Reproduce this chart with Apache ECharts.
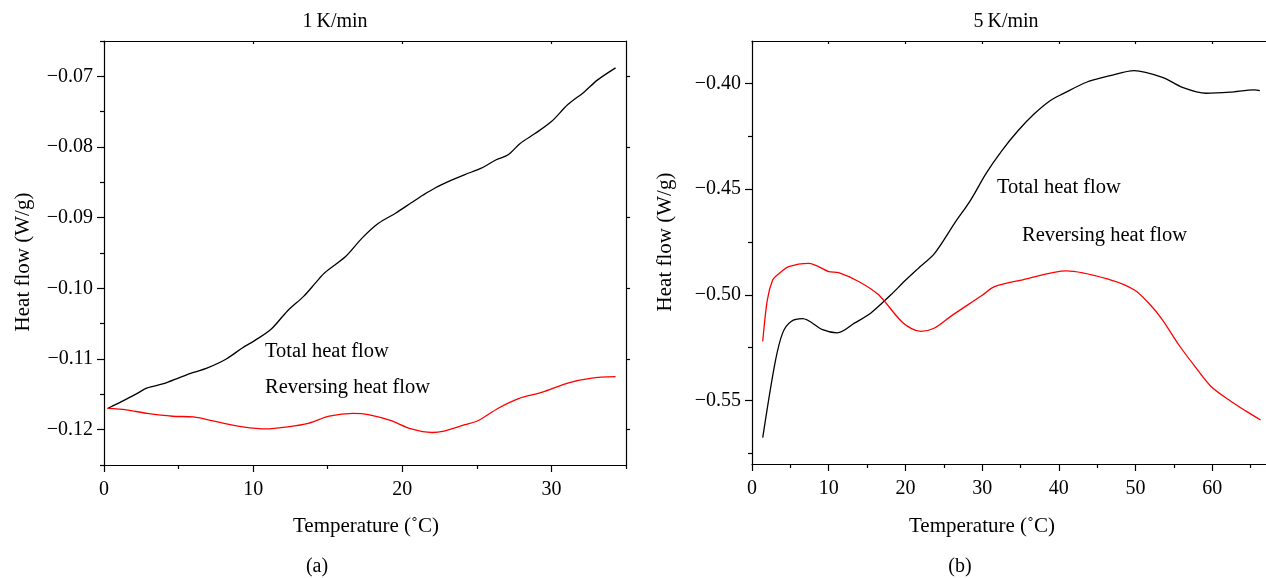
<!DOCTYPE html>
<html><head><meta charset="utf-8">
<script src="https://cdn.jsdelivr.net/npm/echarts@6/dist/echarts.min.js"></script>
<style>html,body{margin:0;padding:0;background:#fff}#c{width:1266px;height:578px}</style>
</head><body><div id="c"></div><script>
// ---------- data ----------
const leftTotalT = [0.24,1.3,2.2,2.9,4.0,5.1,6.0,6.9,8.2,9.3,10.1,11.2,12.3,13.4,14.2,14.8,16.2,17.3,18.4,19.6,20.6,21.4,22.2,23.3,24.2,25.3,26.3,27.1,27.9,28.9,30.0,31.1,32.2,33.1,34.3];
const leftTotalV = [-0.1170,-0.1159,-0.1149,-0.1141,-0.1135,-0.1126,-0.1119,-0.1113,-0.1100,-0.1084,-0.1074,-0.1058,-0.1032,-0.1011,-0.0992,-0.0978,-0.0955,-0.0929,-0.0908,-0.0893,-0.0879,-0.0868,-0.0858,-0.0847,-0.0839,-0.0830,-0.0818,-0.0811,-0.0795,-0.0781,-0.0764,-0.0740,-0.0722,-0.0705,-0.0688];
const leftRevT = [0.24,1.5,2.9,4.6,6.0,7.6,9.3,10.9,12.3,13.7,15.1,16.7,17.8,19.2,20.6,22.0,22.8,24.2,25.1,26.4,27.8,29.4,31.1,32.7,34.3];
const leftRevV = [-0.1170,-0.1172,-0.1177,-0.1181,-0.1182,-0.1189,-0.1196,-0.1199,-0.1196,-0.1191,-0.1181,-0.1177,-0.1179,-0.1187,-0.1199,-0.1204,-0.1202,-0.1193,-0.1187,-0.1170,-0.1156,-0.1147,-0.1134,-0.1127,-0.1125];
const rightTotalT = [1.4,3.0,4.0,5.1,6.6,9.2,11.1,13.4,15.5,18.1,19.9,21.7,23.8,26.4,28.5,30.5,32.6,34.7,36.8,38.9,40.5,43.6,46.7,49.8,53.5,56.1,59.2,62.3,65.5,66.2];
const rightTotalV = [-0.5675,-0.5322,-0.5180,-0.5126,-0.5113,-0.5165,-0.5180,-0.5133,-0.5086,-0.5000,-0.4935,-0.4874,-0.4804,-0.4662,-0.4552,-0.4427,-0.4317,-0.4223,-0.4144,-0.4081,-0.4050,-0.3995,-0.3964,-0.3940,-0.3972,-0.4019,-0.4047,-0.4042,-0.4031,-0.4035];
const rightRevT = [1.4,2.0,2.7,3.3,4.8,7.4,10.0,11.3,13.9,16.5,19.7,22.0,23.8,25.9,30.1,31.6,35.3,41.0,46.7,49.8,51.7,53.5,55.6,57.7,59.8,62.4,64.4,66.3];
const rightRevV = [-0.5220,-0.5024,-0.4929,-0.4906,-0.4867,-0.4851,-0.4890,-0.4895,-0.4937,-0.5000,-0.5133,-0.5173,-0.5157,-0.5102,-0.5000,-0.4961,-0.4929,-0.4887,-0.4929,-0.4976,-0.5039,-0.5118,-0.5235,-0.5337,-0.5432,-0.5503,-0.5550,-0.5592];

const leftXTicks = [0,10,20,30];
const leftXMinor = [5,15,25,35];
const leftYTicks = [-0.12,-0.11,-0.10,-0.09,-0.08,-0.07];
const leftYMinor = [-0.125,-0.115,-0.105,-0.095,-0.085,-0.075,-0.065];
const rightXTicks = [0,10,20,30,40,50,60];
const rightXMinor = [5,15,25,35,45,55,65];
const rightYTicks = [-0.55,-0.50,-0.45,-0.40];
const rightYMinor = [-0.575,-0.525,-0.475,-0.425];

const titles = ['1\u2009K/min','5\u2009K/min'];
const xName = 'Temperature (\u02DAC)';
const yName = 'Heat flow (W/g)';
const panelLabels = ['(a)','(b)'];
const seriesNames = ['Total heat flow','Reversing heat flow'];

// ---------- build ----------
const FONT = '"Liberation Serif", "DejaVu Serif", serif';
const LS = {color:'#000', width:1.2};
const zip = (a,b) => a.map((v,i)=>[v,b[i]]);
const fmtY = v => '\u2212' + Math.abs(v).toFixed(2);

function xAxes(g, min, max, majors, minors){
  return [
    {gridIndex:g,type:'value',min,max,position:'bottom',
     axisLine:{show:true,onZero:false,lineStyle:LS},
     axisTick:{show:true,inside:false,length:7,customValues:majors,lineStyle:LS},
     axisLabel:{show:true,customValues:majors,fontFamily:FONT,fontSize:20,color:'#000',margin:15},
     splitLine:{show:false}},
    {gridIndex:g,type:'value',min,max,position:'bottom',
     axisLine:{show:false,onZero:false},
     axisTick:{show:true,inside:false,length:4,customValues:minors,lineStyle:LS},
     axisLabel:{show:false},splitLine:{show:false}},
    {gridIndex:g,type:'value',min,max,position:'top',
     axisLine:{show:true,onZero:false,lineStyle:LS},
     axisTick:{show:true,inside:true,length:3,customValues:majors,lineStyle:LS},
     axisLabel:{show:false},splitLine:{show:false}}
  ];
}
function yAxes(g, min, max, majors, minors, showRight){
  return [
    {gridIndex:g,type:'value',min,max,position:'left',
     axisLine:{show:true,onZero:false,lineStyle:LS},
     axisTick:{show:true,inside:false,length:7,customValues:majors,lineStyle:LS},
     axisLabel:{show:true,customValues:majors,formatter:fmtY,fontFamily:FONT,fontSize:20,color:'#000',margin:11},
     splitLine:{show:false}},
    {gridIndex:g,type:'value',min,max,position:'left',
     axisLine:{show:false,onZero:false},
     axisTick:{show:true,inside:false,length:4,customValues:minors,lineStyle:LS},
     axisLabel:{show:false},splitLine:{show:false}},
    {gridIndex:g,type:'value',min,max,position:'right',show:showRight,
     axisLine:{show:true,onZero:false,lineStyle:LS},
     axisTick:{show:true,inside:false,length:4,customValues:majors,lineStyle:LS},
     axisLabel:{show:false},splitLine:{show:false}}
  ];
}
function line(name, data, color, xi, yi){
  return {name,type:'line',xAxisIndex:xi,yAxisIndex:yi,data,showSymbol:false,symbol:'none',
    smooth:0.3,lineStyle:{color,width:1.3},itemStyle:{color},silent:true};
}
function txt(text, x, y, size, rot){
  return {type:'text',x,y,rotation:rot||0,silent:true,
    style:{text,fill:'#000',font:size+'px '+FONT,textAlign:'center',textVerticalAlign:'middle'}};
}
function ltxt(text, x, y, size){
  return {type:'text',x,y,silent:true,
    style:{text,fill:'#000',font:size+'px '+FONT,textAlign:'left',textVerticalAlign:'middle'}};
}

const chart = echarts.init(document.getElementById('c'), null, {renderer:'canvas'});
chart.setOption({
  animation:false,
  backgroundColor:'#fff',
  grid:[
    {left:104,top:41,width:522,height:424},
    {left:752,top:41,width:514,height:423}
  ],
  xAxis:[...xAxes(0,0,35,leftXTicks,leftXMinor), ...xAxes(1,0,67,rightXTicks,rightXMinor)],
  yAxis:[...yAxes(0,-0.125,-0.065,leftYTicks,leftYMinor,true), ...yAxes(1,-0.58,-0.38,rightYTicks,rightYMinor,false)],
  series:[
    line(seriesNames[0], zip(leftTotalT,leftTotalV), '#000', 0, 0),
    line(seriesNames[1], zip(leftRevT,leftRevV), '#ff0000', 0, 0),
    line(seriesNames[0], zip(rightTotalT,rightTotalV), '#000', 3, 3),
    line(seriesNames[1], zip(rightRevT,rightRevV), '#ff0000', 3, 3)
  ],
  graphic:[
    txt(titles[0], 335, 22, 20),
    txt(titles[1], 1006, 22, 20),
    txt(xName, 366, 526, 21),
    txt(xName, 982, 526, 21),
    txt(panelLabels[0], 317, 567, 20),
    txt(panelLabels[1], 960, 567, 20),
    txt(yName, 23, 262, 21, Math.PI/2),
    txt(yName, 665, 242, 21, Math.PI/2),
    ltxt(seriesNames[0], 265, 352, 20.5),
    ltxt(seriesNames[1], 265, 388, 20.5),
    ltxt(seriesNames[0], 997, 188, 20.5),
    ltxt(seriesNames[1], 1022, 236, 20.5)
  ]
});
</script></body></html>
